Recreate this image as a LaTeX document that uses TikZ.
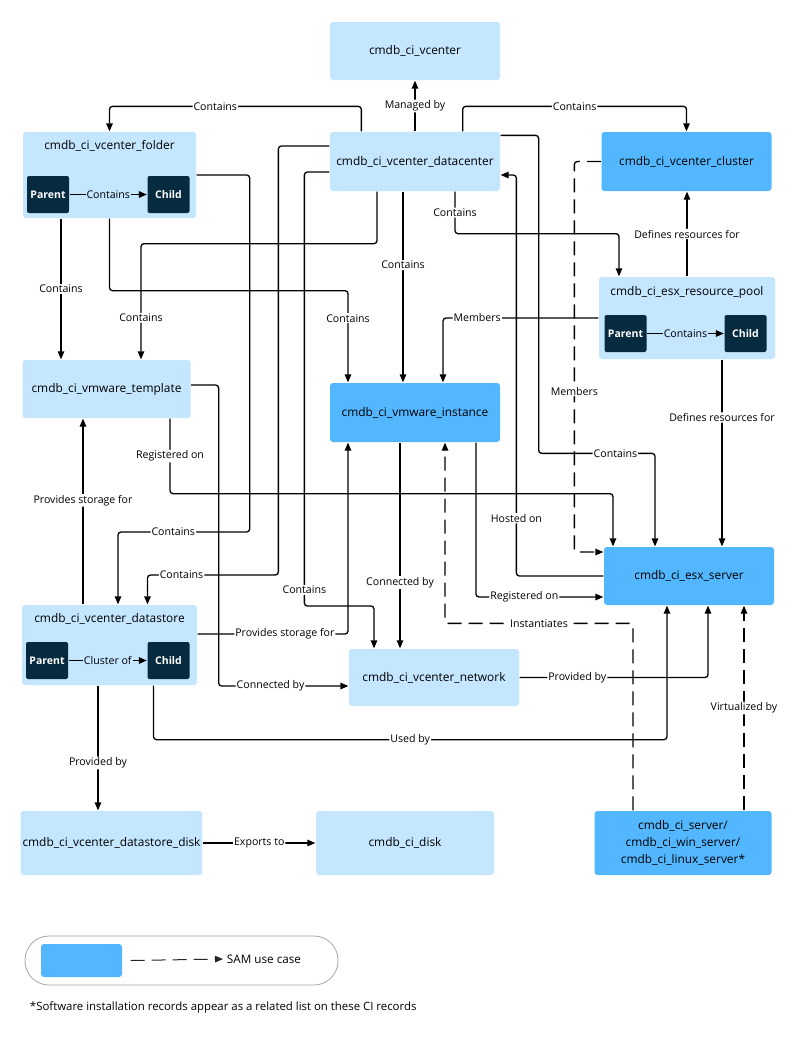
\documentclass[tikz,border=0pt]{standalone}
\usepackage{fontspec}
\setmainfont{Open Sans}
\usetikzlibrary{arrows.meta,calc,positioning}
\definecolor{ciLight}{RGB}{196,230,255}
\definecolor{ciDark}{RGB}{82,183,255}
\definecolor{ciNavy}{RGB}{6,42,64}

\begin{document}
\begin{tikzpicture}[x=1pt,y=-1pt,>={Triangle[length=8pt,width=6.5pt]},line width=1.3pt]
    \tikzset{
        citext/.style={font=\fontsize{11.9}{17}\selectfont},
        ci/.style={
            citext,
            rounded corners=3pt,
            inner sep=2pt,
            align=center,
            minimum width=170,
            minimum height=58
        },
        lbox/.style={ci, fill=ciLight},
        dbox/.style={ci, fill=ciDark},
        pcbox/.style={
            fill=ciNavy,
            text=white,
            rounded corners=2pt,
            minimum width=42,
            minimum height=37,
            inner sep=1pt,
            font=\fontsize{10.5}{12}\selectfont\bfseries
        },
        lbl/.style={fill=white, inner sep=1pt, font=\fontsize{10.6}{12}\selectfont},
        link/.style={->, rounded corners=3pt},
        samlink/.style={link, dash pattern=on 14pt off 7pt}
    }

    \fill[white] (0,0) rectangle (800,1055);
    \useasboundingbox (0,0) rectangle (800,1055);

    % vCenter, datacenter, cluster
    \node[lbox] (vcenter) at (415,51) {cmdb\_ci\_vcenter};
    \node[lbox, minimum height=59] (datacenter) at (415,161.5) {cmdb\_ci\_vcenter\_datacenter};
    \node[dbox, minimum height=59] (cluster) at (686.5,161.5) {cmdb\_ci\_vcenter\_cluster};

    % Folder (parent / child)
    \node[lbox, minimum width=173, minimum height=86] (folder) at (109.5,175) {};
    \node[citext] (folderT) at (109.5,146) {cmdb\_ci\_vcenter\_folder};
    \node[pcbox] (folderP) at (48,194.5) {Parent};
    \node[pcbox] (folderC) at (168.5,194.5) {Child};
    \draw[->] (folderP) -- node[lbl, fill=ciLight] {Contains} (folderC);

    % Resource pool (parent / child)
    \node[lbox, minimum width=176, minimum height=82] (pool) at (687,318) {};
    \node[citext] (poolT) at (687,292) {cmdb\_ci\_esx\_resource\_pool};
    \node[pcbox] (poolP) at (625.5,333.5) {Parent};
    \node[pcbox] (poolC) at (745.5,333.5) {Child};
    \draw[->] (poolP) -- node[lbl, fill=ciLight] {Contains} (poolC);

    % Template, instance, ESX server
    \node[lbox, minimum width=168] (template) at (106.5,389) {cmdb\_ci\_vmware\_template};
    \node[dbox, minimum height=59] (instance) at (415,412.5) {cmdb\_ci\_vmware\_instance};
    \node[dbox] (esx) at (689,576) {cmdb\_ci\_esx\_server};

    % Datastore (parent / child)
    \node[lbox, minimum width=175, minimum height=80] (datastore) at (109.5,645) {};
    \node[citext] (datastoreT) at (109.5,619) {cmdb\_ci\_vcenter\_datastore};
    \node[pcbox] (datastoreP) at (47,660.5) {Parent};
    \node[pcbox] (datastoreC) at (168.5,660.5) {Child};
    \draw[->] (datastoreP) -- node[lbl, fill=ciLight] {Cluster of} (datastoreC);

    % Network, disks, servers
    \node[lbox, minimum height=57] (network) at (434,677.5) {cmdb\_ci\_vcenter\_network};
    \node[lbox, minimum width=177, minimum height=64] (dsdisk) at (111.5,843) {cmdb\_ci\_vcenter\_datastore\_disk};
    \node[lbox, minimum width=178, minimum height=64] (disk) at (405,843) {cmdb\_ci\_disk};
    \node[dbox, minimum width=177, minimum height=64] (server) at (683,843)
        {cmdb\_ci\_server/\\cmdb\_ci\_win\_server/\\cmdb\_ci\_linux\_server*};

    % Links from the datacenter
    \draw[link] (datacenter) -- node[lbl] {Managed by} (vcenter);
    \draw[link] ([xshift=32pt]datacenter.north west) -- ++(0,-25)
        -| node[lbl, pos=0.29] {Contains} (folder.north);
    \draw[link] ([xshift=-38pt]datacenter.north east) -- ++(0,-25)
        -| node[lbl, pos=0.25] {Contains} (cluster.north);
    \draw[link] ([yshift=-4pt]datacenter.north east) -- ++(38,0) -- ++(0,318)
        -| node[lbl, pos=0.33] {Contains} ([xshift=-34pt]esx.north);
    \draw[link] ([xshift=40pt]datacenter.south) -- node[lbl] {Contains} ++(0,42)
        -| ([xshift=-68pt]pool.north);
    \draw[link] ([xshift=-12pt]datacenter.south) -- node[lbl, pos=0.385] {Contains}
        ([xshift=-12pt]instance.north);
    \draw[link] ([xshift=-38pt]datacenter.south) -- ++(0,52)
        -| node[lbl, pos=0.82] {Contains} ([xshift=34.5pt]template.north);
    \draw[link] ([yshift=15.5pt]datacenter.west) -- ++(-51,0) -- ++(0,429)
        -| node[lbl, pos=0.37] {Contains} ([xshift=38pt]datastore.north);
    \draw[link] ([yshift=-10.5pt]datacenter.west) -- ++(-25,0)
        -- node[lbl, pos=0.963] {Contains} ++(0,434) -| ([xshift=-60pt]network.north);
    \draw[link] (esx.west) -- ++(-87,0)
        |- node[lbl, pos=0.072] {Hosted on} ([yshift=-13.5pt]datacenter.east);

    % Links from the folder
    \coordinate (folderOut) at ([xshift=-48.5pt]folder.south);
    \draw[link] (folderOut) -- node[lbl] {Contains} (folderOut |- template.north);
    \draw[link] (folder.south) -- ++(0,72)
        -| node[lbl, pos=0.65] {Contains} ([xshift=-67pt]instance.north);
    \draw[link] (folder.east) -- ++(53,0) -- ++(0,357)
        -| node[lbl, pos=0.29] {Contains} ([xshift=8.5pt]datastore.north);

    % Cluster and resource pool
    \draw[link] (pool.north) -- node[lbl] {Defines resources for} (pool.north |- cluster.south);
    \coordinate (poolOut) at ([xshift=35pt]pool.south);
    \draw[link] (poolOut) -- node[lbl, pos=0.31] {Defines resources for} (poolOut |- esx.north);
    \draw[link] (pool.west) -| node[lbl, pos=0.39] {Members} ([xshift=28pt]instance.north);
    \draw[samlink] (cluster.west) -- ++(-26.5,0)
        |- node[lbl, pos=0.294] {Members} ([yshift=24pt]esx.west);

    % Template and instance
    \draw[link] ([xshift=63.5pt]template.south) -- node[lbl] {Registered on} ++(0,75)
        -| ([xshift=-76pt]esx.north);
    \draw[link] ([yshift=4pt]template.east) -- ++(27.5,0)
        |- node[lbl, pos=0.7] {Connected by} ([yshift=-8.5pt]network.west);
    \coordinate (instOut) at ([xshift=-15pt]instance.south);
    \draw[link] (instOut) -- node[lbl, pos=0.68] {Connected by} (instOut |- network.north);
    \draw[link] ([xshift=61pt]instance.south)
        |- node[lbl, pos=0.69] {Registered on} ([yshift=-21pt]esx.west);

    % Datastore
    \coordinate (dsTop) at ([xshift=-26.5pt]datastore.north);
    \draw[link] (dsTop) -- node[lbl, pos=0.56] {Provides storage for} (dsTop |- template.south);
    \draw[link] ([yshift=11pt]datastore.east)
        -| node[lbl, pos=0.29] {Provides storage for} ([xshift=-67pt]instance.south);
    \draw[link] ([xshift=44pt]datastore.south) -- ++(0,54)
        -| node[lbl, pos=0.25] {Used by} ([xshift=-22pt]esx.south);
    \coordinate (dsBot) at ([xshift=-11.5pt]datastore.south);
    \draw[link] (dsBot) -- node[lbl, pos=0.62] {Provided by} (dsBot |- dsdisk.north);
    \draw[link] (dsdisk) -- node[lbl] {Exports to} (disk);

    % Network and servers
    \draw[link] (network.east) -| node[lbl, pos=0.153] {Provided by} ([xshift=19pt]esx.south);
    \draw[samlink] ([xshift=-50pt]server.north) -- ++(0,-187)
        -| node[lbl, pos=0.25] {Instantiates} ([xshift=30pt]instance.south);
    \coordinate (srvTop) at ([xshift=61pt]server.north);
    \draw[samlink] (srvTop) -- node[lbl] {Virtualized by} (srvTop |- esx.south);

    % Legend
    \node[draw=gray!70, line width=0.8pt, rounded corners=24pt,
        minimum width=313, minimum height=49] (legend) at (181.5,960.5) {};
    \node[dbox, minimum width=81, minimum height=33] (legBox) at (81.5,960.5) {};
    \node[anchor=west, font=\fontsize{11.7}{13}\selectfont] (legText) at (223,959) {SAM use case};
    \draw[samlink, line width=1pt, gray!30!black] ([xshift=8pt]legBox.east) -- (legText.west);

    \node[anchor=west, font=\fontsize{11.4}{14}\selectfont] (footnote) at (26,1007)
        {*Software installation records appear as a related list on these CI records};
\end{tikzpicture}
\end{document}
